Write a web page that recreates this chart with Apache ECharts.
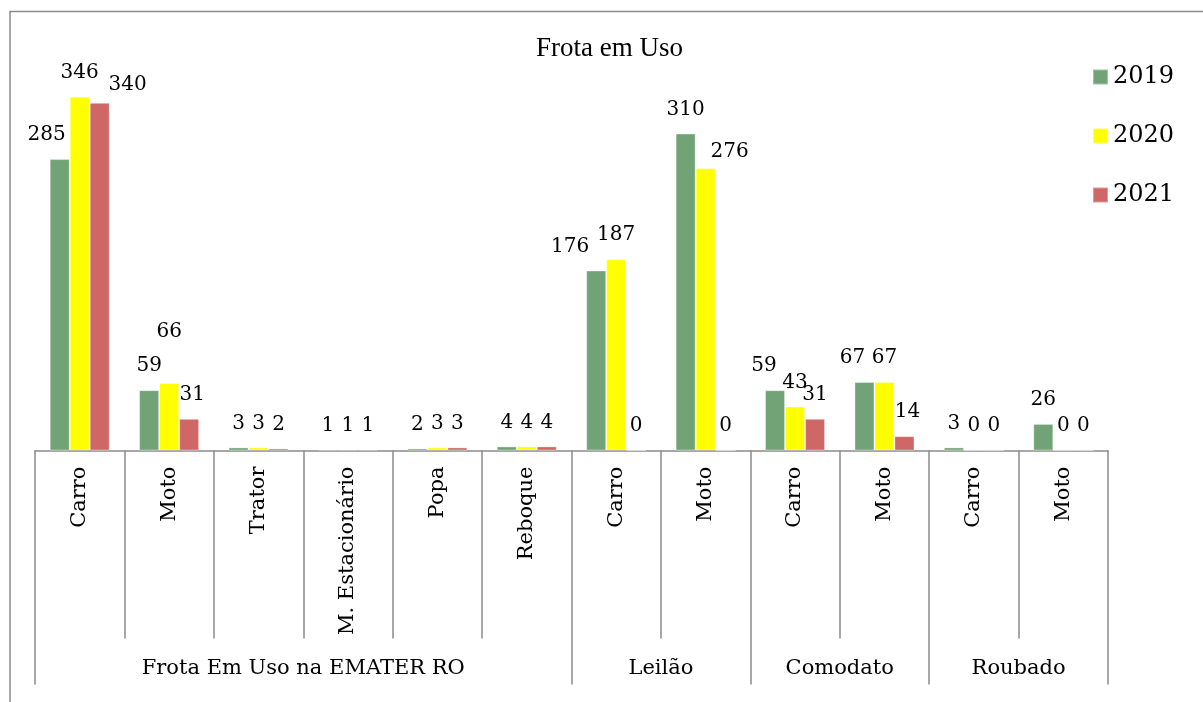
<!DOCTYPE html>
<html>
<head>
<meta charset="utf-8">
<script src="https://cdn.jsdelivr.net/npm/echarts@6/dist/echarts.min.js"></script>
<style>
  html, body { margin: 0; padding: 0; background: #ffffff; }
  #chart { width: 1203px; height: 702px; }
</style>
</head>
<body>
<div id="chart"></div>
<script>
  // dados do grafico
  const categories = ['Carro', 'Moto', 'Trator', 'M. Estacionário', 'Popa', 'Reboque', 'Carro', 'Moto', 'Carro', 'Moto', 'Carro', 'Moto'];
  const groupNames = ['Frota Em Uso na EMATER RO', 'Leilão', 'Comodato', 'Roubado'];
  const groupSizes = [6, 2, 2, 2];
  const years = ['2019', '2020', '2021'];
  const v2019 = [285, 59, 3, 1, 2, 4, 176, 310, 59, 67, 3, 26];
  const v2020 = [346, 66, 3, 1, 3, 4, 187, 276, 43, 67, 0, 0];
  const v2021 = [340, 31, 2, 1, 3, 4, 0, 0, 31, 14, 0, 0];

  const colors = ['#72a376', '#ffff00', '#cf6766'];
  const gray = '#8a8a8a';
  const serif = 'DejaVu Serif';

  // deslocamento manual dos rotulos (como no Excel) : "serie-indice" -> [dx, dy]
  const labelNudge = {
    '0-0': [-13, 0], '2-0': [28, 6],
    '1-1': [0, -27], '2-1': [3, 0],
    '0-6': [-26, 0], '1-7': [24, 8],
    '0-8': [-11, 0], '0-9': [-12, 0], '2-9': [3, 0]
  };

  // eixo de grupos: 2 pontos por categoria (meia categoria), rotulo no centro do grupo
  const groupAxisData = [];
  const groupTicks = [0];
  const groupLabelAt = {};
  let pos = 0;
  for (let g = 0; g < groupSizes.length; g++) {
    groupLabelAt[pos + groupSizes[g]] = groupNames[g];
    pos += groupSizes[g] * 2;
    groupTicks.push(pos);
  }
  for (let i = 0; i <= categories.length * 2; i++) {
    groupAxisData.push(groupLabelAt[i] || '');
  }

  const chart = echarts.init(document.getElementById('chart'));

  function makeSeries(idx, values) {
    return {
      name: years[idx],
      type: 'bar',
      xAxisIndex: 0,
      barWidth: 20,
      barGap: '0%',
      itemStyle: { color: colors[idx], borderColor: 'rgba(255,255,255,0.35)', borderWidth: 1 },
      label: {
        show: true,
        position: 'top',
        distance: 14,
        fontFamily: serif,
        fontSize: 20,
        color: '#000'
      },
      data: values.map((v, i) => {
        const n = labelNudge[idx + '-' + i];
        return n ? { value: v, label: { offset: n } } : v;
      })
    };
  }

  const option = {
    animation: false,
    backgroundColor: '#ffffff',
    title: {
      text: 'Frota em Uso',
      left: 536,
      top: 35,
      padding: 0,
      textStyle: { fontFamily: 'Liberation Serif', fontSize: 27, fontWeight: 'normal', color: '#000' }
    },
    legend: {
      orient: 'vertical',
      left: 1092,
      top: 65,
      itemWidth: 15,
      itemHeight: 15,
      itemGap: 35,
      icon: 'rect',
      padding: 0,
      textStyle: { fontFamily: serif, fontSize: 24, color: '#000' },
      data: years
    },
    graphic: [{
      type: 'rect',
      shape: { x: 10, y: 11.5, width: 1250, height: 750 },
      style: { fill: 'none', stroke: gray, lineWidth: 1.5 },
      silent: true
    }],
    grid: { left: 35, right: 95, top: 41.5, bottom: 251.5 },
    xAxis: [{
      type: 'category',
      position: 'bottom',
      data: categories,
      axisLine: { show: true, lineStyle: { color: gray, width: 1.5 } },
      axisTick: { show: true, length: 188, lineStyle: { color: gray, width: 1.5 } },
      axisLabel: {
        interval: 0,
        rotate: 90,
        margin: 16,
        fontFamily: serif,
        fontSize: 21,
        color: '#000'
      }
    }, {
      type: 'category',
      position: 'bottom',
      boundaryGap: false,
      data: groupAxisData,
      axisLine: { show: false },
      axisTick: {
        show: true,
        length: 234,
        interval: (i) => groupTicks.indexOf(i) >= 0,
        lineStyle: { color: gray, width: 1.5 }
      },
      axisLabel: {
        interval: (i, v) => v !== '',
        margin: 208,
        fontFamily: serif,
        fontSize: 21,
        color: '#000'
      }
    }],
    yAxis: {
      type: 'value',
      min: 0,
      max: 400,
      show: false,
      splitLine: { show: false }
    },
    series: [
      makeSeries(0, v2019),
      makeSeries(1, v2020),
      makeSeries(2, v2021)
    ]
  };

  chart.setOption(option);
</script>
</body>
</html>
